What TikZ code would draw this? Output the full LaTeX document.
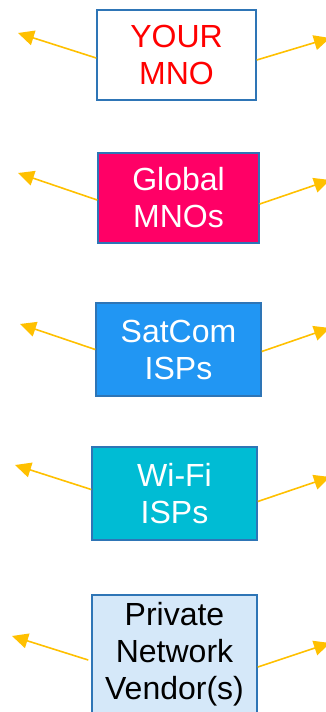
\documentclass[tikz,border=0pt]{standalone}
\usepackage{fontspec}
\setmainfont{Liberation Sans}
\usetikzlibrary{arrows.meta}
\definecolor{boxblue}{HTML}{2E75B6}
\definecolor{arrowgold}{HTML}{FFC000}
\definecolor{globalpink}{HTML}{FF0066}
\definecolor{satblue}{HTML}{2196F3}
\definecolor{wificyan}{HTML}{00BCD4}
\definecolor{privblue}{HTML}{D5E8F9}
\tikzset{
  party/.style = {draw=boxblue, line width=1.5pt, align=center, inner sep=0pt, font=\fontsize{32}{37}\selectfont},
  link/.style = {draw=arrowgold, line width=1.6pt, -{Triangle[length=16pt,width=15pt]}},
}

\begin{document}
\begin{tikzpicture}[x=1pt, y=-1pt]
  \useasboundingbox (0,0) rectangle (326,712);
  \node [party, fill=white, text=red, minimum width=159pt, minimum height=90pt] (mno) at (176.5,55) {YOUR\\MNO};
  \node [party, fill=globalpink, text=white, minimum width=161pt, minimum height=90pt] (global) at (178.5,198) {Global\\MNOs};
  \node [party, fill=satblue, text=white, minimum width=165pt, minimum height=93pt] (satcom) at (178.5,349.5) {SatCom\\ISPs};
  \node [party, fill=wificyan, text=white, minimum width=165pt, minimum height=93pt] (wifi) at (174.5,493.5) {Wi-Fi\\ISPs};
  \node [party, fill=privblue, text=black, minimum width=165pt, minimum height=118pt] (private) at (174.5,654) {Private\\Network\\Vendor(s)};
  % free ends of the arrows
  \coordinate (mnoL) at (18,33);
  \coordinate (mnoR) at (330,38);
  \coordinate (globalL) at (18,173);
  \coordinate (globalR) at (330,180);
  \coordinate (satcomL) at (20,324);
  \coordinate (satcomR) at (330,328);
  \coordinate (wifiL) at (15,465);
  \coordinate (wifiR) at (330,477);
  \coordinate (privateL) at (12,636);
  \coordinate (privateR) at (330,643);
  \draw [link] ([yshift=-3pt]mno.west) -- (mnoL);
  \draw [link] ([yshift=-5pt]mno.east) -- (mnoR);
  \draw [link] ([yshift=-2pt]global.west) -- (globalL);
  \draw [link] ([yshift=-6pt]global.east) -- (globalR);
  \draw [link] ([yshift=0pt]satcom.west) -- (satcomL);
  \draw [link] ([yshift=-2pt]satcom.east) -- (satcomR);
  \draw [link] ([yshift=4pt]wifi.west) -- (wifiL);
  \draw [link] ([yshift=-8pt]wifi.east) -- (wifiR);
  \draw [link] ([xshift=-3pt,yshift=-6pt]private.west) -- (privateL);
  \draw [link] ([yshift=-13pt]private.east) -- (privateR);
\end{tikzpicture}
\end{document}
